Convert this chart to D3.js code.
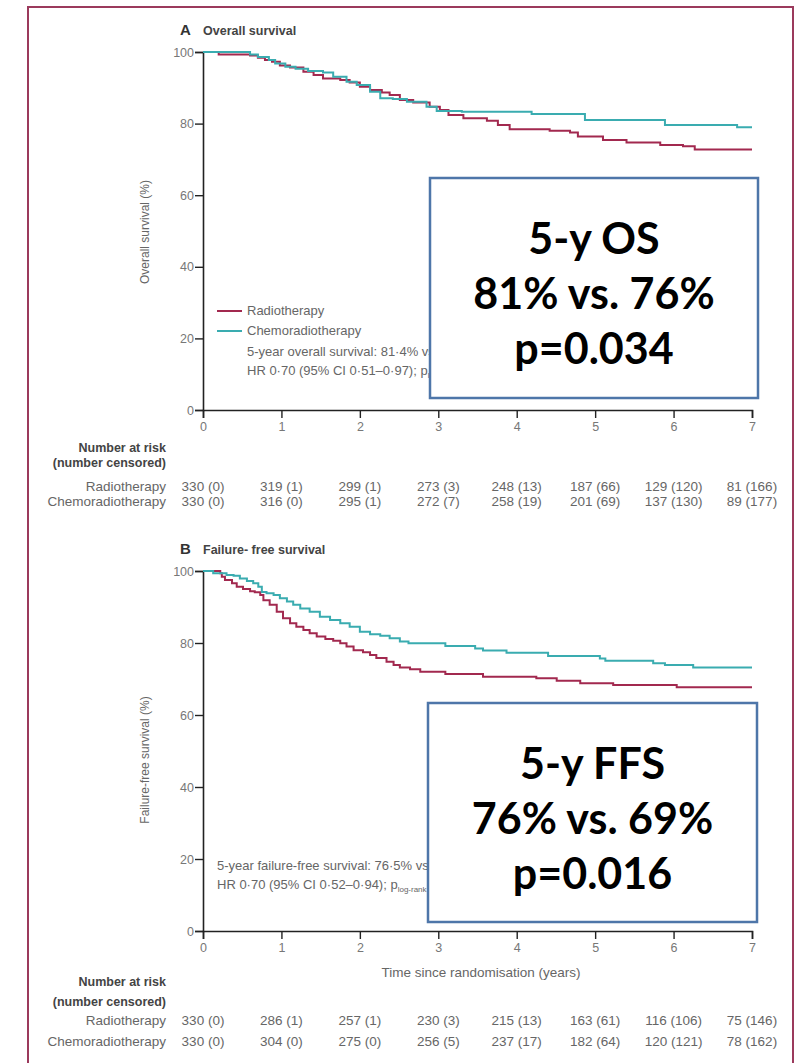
<!DOCTYPE html>
<html>
<head>
<meta charset="utf-8">
<script src="https://cdn.jsdelivr.net/npm/d3@7"></script>
<style>
  body { margin:0; background:#fff; }
  svg text { font-family: "Liberation Sans", sans-serif; fill:#666; }
  .big text { font-family: Lato, "Open Sans", sans-serif; font-weight:bold; fill:#000; }
</style>
</head>
<body>
<div class="chart"></div>
<script>
// x ticks (years) and y ticks (%)
var xTicks = [0, 1, 2, 3, 4, 5, 6, 7];
var yTicks = [0, 20, 40, 60, 80, 100];

// A: overall survival, [time in years, % alive]
var osRadio = [[0,100],[0.2,99.3],[0.6,99.0],[0.7,98.4],[0.79,97.8],[0.88,97.3],[0.98,96.2],[1.11,95.7],[1.28,94.5],[1.41,93.6],
  [1.53,92.6],[1.75,92.2],[1.87,91.5],[2.0,90.3],[2.13,89.4],[2.28,88.7],[2.38,88.0],[2.51,86.6],[2.68,85.9],[2.89,84.7],
  [3.02,83.8],[3.13,82.4],[3.32,81.5],[3.62,80.8],[3.76,79.6],[3.91,78.4],[4.42,78.0],[4.68,77.5],[4.78,76.4],[5.10,75.4],
  [5.40,74.7],[5.83,74.0],[6.12,73.7],[6.27,72.8],[7.0,72.8]];
var osChemo = [[0,100],[0.6,99.3],[0.7,98.6],[0.84,97.8],[0.92,96.8],[1.05,95.9],[1.18,95.3],[1.34,94.7],[1.53,94.3],[1.66,93.1],
  [1.83,91.7],[1.96,90.8],[2.13,88.9],[2.26,87.1],[2.42,86.9],[2.6,86.1],[2.85,84.7],[2.98,83.5],[3.30,83.3],[4.19,82.7],
  [4.87,81.0],[5.89,79.6],[6.81,79.0],[7.0,79.0]];

// B: failure-free survival
var ffsRadio = [[0,100],[0.22,99.4],[0.24,98.4],[0.28,97.5],[0.37,96.6],[0.43,95.6],[0.51,95.0],[0.6,94.4],[0.66,94.1],[0.73,93.3],
  [0.77,91.9],[0.85,90.6],[0.94,88.7],[1.02,86.9],[1.11,85.5],[1.19,84.5],[1.28,83.6],[1.36,82.7],[1.45,81.8],[1.56,81.1],
  [1.66,80.6],[1.75,79.9],[1.83,79.0],[1.92,78.0],[2.04,77.4],[2.13,76.7],[2.21,75.8],[2.34,74.8],[2.43,73.9],[2.51,73.2],
  [2.64,72.7],[2.77,72.0],[3.09,71.4],[3.57,70.6],[4.25,70.2],[4.51,69.5],[4.81,68.8],[5.23,68.3],[6.04,67.7],[7.0,67.7]];
var ffsChemo = [[0,100],[0.13,99.4],[0.30,98.9],[0.39,98.7],[0.47,97.9],[0.56,97.2],[0.64,96.6],[0.705,95.6],[0.75,94.2],[0.81,93.8],
  [0.9,93.3],[0.98,92.4],[1.07,91.5],[1.15,90.6],[1.24,89.6],[1.36,88.7],[1.49,87.3],[1.62,86.4],[1.75,85.5],[1.87,84.5],
  [2.0,83.1],[2.13,82.4],[2.26,82.0],[2.38,81.3],[2.51,80.4],[2.62,79.9],[3.09,79.2],[3.47,78.5],[3.57,77.9],[3.87,77.3],
  [4.40,76.4],[5.06,75.7],[5.13,75.1],[5.74,74.4],[5.89,73.9],[6.25,73.2],[7.0,73.2]];

// number at risk (number censored)
var osRiskRadio = ["330 (0)","319 (1)","299 (1)","273 (3)","248 (13)","187 (66)","129 (120)","81 (166)"];
var osRiskChemo = ["330 (0)","316 (0)","295 (1)","272 (7)","258 (19)","201 (69)","137 (130)","89 (177)"];
var ffsRiskRadio = ["330 (0)","286 (1)","257 (1)","230 (3)","215 (13)","163 (61)","116 (106)","75 (146)"];
var ffsRiskChemo = ["330 (0)","304 (0)","275 (0)","256 (5)","237 (17)","182 (64)","120 (121)","78 (162)"];

var groups = ["Radiotherapy", "Chemoradiotherapy"];
var colRadio = "#a2294f", colChemo = "#3aacb0";

var svg = d3.select(".chart").append("svg")
    .attr("width", 803)
    .attr("height", 1063);

// maroon frame round the figure
svg.append("rect")
    .attr("x", 28).attr("y", 7)
    .attr("width", 765).attr("height", 1080)
    .attr("fill", "none")
    .attr("stroke", "#9b3a5c")
    .attr("stroke-width", 2);

var x = d3.scaleLinear().domain([0, 7]).range([203, 752]);

function drawPanel(p) {
    var y = d3.scaleLinear().domain([0, 100]).range([p.y0, p.y1]);
    var g = svg.append("g");

    g.append("text").attr("x", 180).attr("y", p.y1 - 17)
        .style("font-size", "15px").style("font-weight", "bold").style("fill", "#333")
        .text(p.letter);
    g.append("text").attr("x", 203).attr("y", p.y1 - 17)
        .style("font-size", "12.5px").style("font-weight", "bold").style("fill", "#444")
        .text(p.title);

    var yAxis = g.append("g")
        .attr("transform", "translate(203,0)")
        .call(d3.axisLeft(y).tickValues(yTicks).tickSize(8).tickPadding(1));
    var xAxis = g.append("g")
        .attr("transform", "translate(0," + p.y0 + ")")
        .call(d3.axisBottom(x).tickValues(xTicks).tickFormat(d3.format("d")).tickSize(8).tickPadding(4));
    [xAxis, yAxis].forEach(function(a) {
        a.select(".domain").attr("stroke", "#222").attr("stroke-width", 1.6);
        a.selectAll(".tick line").attr("stroke", "#222").attr("stroke-width", 1.4);
        a.selectAll(".tick text").style("font-size", "12.5px").style("fill", "#777").attr("font-family", null);
    });

    g.append("text")
        .attr("transform", "translate(149," + p.labelY + ") rotate(-90)")
        .attr("text-anchor", "middle")
        .style("font-size", "12px")
        .text(p.yLabel);

    var line = d3.line()
        .x(function(d) { return x(d[0]); })
        .y(function(d) { return y(d[1]); })
        .curve(d3.curveStepAfter);
    g.append("path").datum(p.radio).attr("d", line)
        .attr("fill", "none").attr("stroke", colRadio).attr("stroke-width", 2);
    g.append("path").datum(p.chemo).attr("d", line)
        .attr("fill", "none").attr("stroke", colChemo).attr("stroke-width", 2);

    // legend / stats text
    p.notes.forEach(function(n, i) {
        if (n.col) {
            g.append("line").attr("x1", 217).attr("x2", 242)
                .attr("y1", n.y - 4).attr("y2", n.y - 4)
                .attr("stroke", n.col).attr("stroke-width", 2);
        }
        var t = g.append("text").attr("x", p.noteX).attr("y", n.y)
            .style("font-size", "13px").text(n.text);
        if (n.sub) t.append("tspan").attr("dy", 3).style("font-size", "8px").text(n.sub);
    });

    // number at risk table
    var tb = p.table;
    var rows = [
        { label: "Number at risk", y: tb[0], bold: true },
        { label: "(number censored)", y: tb[1], bold: true },
        { label: groups[0], y: tb[2], vals: p.riskRadio },
        { label: groups[1], y: tb[3], vals: p.riskChemo }
    ];
    rows.forEach(function(r) {
        g.append("text").attr("x", 166).attr("y", r.y)
            .attr("text-anchor", "end")
            .style("font-size", r.bold ? "12.5px" : "13.5px")
            .style("fill", r.bold ? "#444" : "#666")
            .style("font-weight", r.bold ? "bold" : "normal")
            .text(r.label);
        if (r.vals) {
            g.selectAll(null).data(r.vals).enter().append("text")
                .attr("x", function(d, i) { return x(xTicks[i]); })
                .attr("y", r.y)
                .attr("text-anchor", "middle")
                .style("font-size", "13.5px")
                .text(function(d) { return d; });
        }
    });

    if (p.xLabel) {
        g.append("text").attr("x", 481).attr("y", p.y0 + 46)
            .attr("text-anchor", "middle").style("font-size", "13.5px")
            .text(p.xLabel);
    }

    // callout box
    var b = p.box;
    var bg = svg.append("g").attr("class", "big");
    bg.append("rect").attr("x", b.x).attr("y", b.y).attr("width", b.w).attr("height", b.h)
        .attr("fill", "#fff").attr("stroke", "#4e76a9").attr("stroke-width", 2.5);
    b.lines.forEach(function(s, i) {
        bg.append("text").attr("x", b.x + b.w / 2).attr("y", b.y + 76 + i * 55)
            .attr("text-anchor", "middle").style("font-size", "43px").text(s);
    });
}

drawPanel({
    letter: "A", title: "Overall survival", y0: 410, y1: 52, labelY: 232,
    yLabel: "Overall survival (%)",
    radio: osRadio, chemo: osChemo, noteX: 247,
    notes: [
        { text: groups[0], y: 315, col: colRadio },
        { text: groups[1], y: 335, col: colChemo },
        { text: "5-year overall survival: 81·4% vs 75·7%", y: 356 },
        { text: "HR 0·70 (95% CI 0·51–0·97); p", sub: "log-rank", y: 375 }
    ],
    table: [452, 467, 491, 506],
    riskRadio: osRiskRadio, riskChemo: osRiskChemo,
    box: { x: 430, y: 178, w: 328, h: 220, lines: ["5-y OS", "81% vs. 76%", "p=0.034"] }
});

drawPanel({
    letter: "B", title: "Failure- free survival", y0: 931, y1: 571, labelY: 760,
    yLabel: "Failure-free survival (%)",
    radio: ffsRadio, chemo: ffsChemo, noteX: 217,
    notes: [
        { text: "5-year failure-free survival: 76·5% vs 69·4%", y: 870 },
        { text: "HR 0·70 (95% CI 0·52–0·94); p", sub: "log-rank", y: 889 }
    ],
    table: [986, 1006, 1025, 1046],
    riskRadio: ffsRiskRadio, riskChemo: ffsRiskChemo,
    xLabel: "Time since randomisation (years)",
    box: { x: 428, y: 703, w: 329, h: 219, lines: ["5-y FFS", "76% vs. 69%", "p=0.016"] }
});
</script>
</body>
</html>
